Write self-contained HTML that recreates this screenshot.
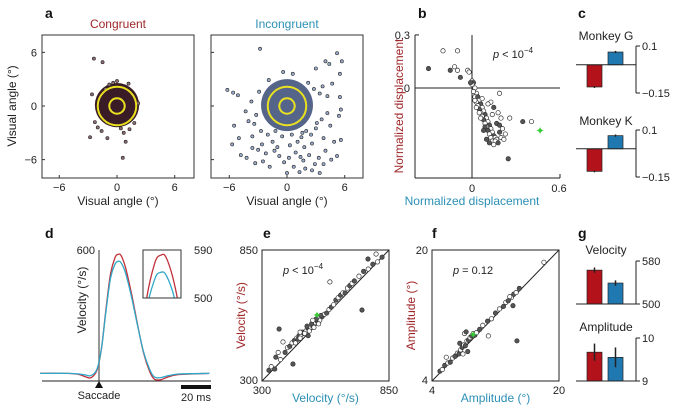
<!DOCTYPE html>
<html><head><meta charset="utf-8"><style>
html,body{margin:0;padding:0;background:#fff;overflow:hidden;width:677px;height:412px;}
svg{display:block;font-family:"Liberation Sans",Arial,sans-serif;overflow:hidden;}
</style></head><body>
<svg id="fig" width="677" height="412" viewBox="0 0 677 412"></svg>
<script>
// ---------- data ----------
const congOutX = [-2.4,-1.5,-2.6,-2.3,-2.0,-2.8,-1.0,0.7,0.9,0.6,1.8,2.2,1.2,0.0,-0.4,-1.6,1.3,-1.2,0.4,-0.8];
const congOutY = [5.3,4.9,1.3,-1.8,-2.4,-3.5,-3.6,-3.0,-4.0,-5.8,-1.9,0.3,2.5,2.8,2.6,-2.8,-2.6,1.9,-2.5,2.4];
const incOutX = [-2.8,5.2,4.4,3.0,5.7,4.0,-6.2,-5.6,-5.1,-3.7,-4.3,-4.0,-5.5,-5.0,-5.7,-4.8,-4.2,-3.6,-3.0,-3.3,-2.5,-2.2,-2.7,-2.0,-1.5,-1.0,-0.8,-0.3,0.0,0.7,1.3,1.9,2.6,3.4,1.7,2.3,0.9,0.3,1.1,1.8,2.6,3.3,4.0,4.6,5.2,3.8,4.5,5.4,4.2,3.6,5.6,2.5,1.5,0.5,-0.5,-1.2,3.4,4.2,5.5,5.6,4.7,3.7,5.5,3.8,2.0,-3.6,-2.6,-1.8,1.4,3.0,-1.3,4.9,2.9,0.2,-3.2,-2.9,3.1,2.8,-0.4,0.6,1.6,-1.9,2.2,-3.4];
const incOutY = [6.4,5.9,4.7,4.2,5.0,5.0,1.8,1.5,1.2,0.5,-0.6,-1.7,-2.2,-3.6,-4.3,-5.5,-5.8,-4.7,-4.9,-6.4,-6.2,-5.3,-2.8,-3.2,-4.0,-4.6,-5.6,-6.3,-7.5,-6.8,-7.4,-7.0,-7.2,-7.5,-6.1,-5.5,-5.2,-4.4,-4.0,-4.6,-4.2,-5.8,-5.0,-6.0,-5.6,-3.6,-2.2,-1.1,-0.8,-1.5,-3.8,-3.2,-3.5,-3.2,-3.4,-2.8,1.4,1.1,1.0,-0.4,2.5,2.2,3.6,-6.5,-2.8,-3.4,-4.3,-6.8,-5.7,-2.5,-5.0,-4.0,-6.5,-5.8,-1.0,1.6,-1.9,1.9,3.8,3.6,-3.0,2.9,2.6,-2.0];
const bX = [-0.3,-0.2,-0.1,-0.15,-0.12,-0.1,-0.08,-0.03,-0.02,0.35,0.41,0.26,0.25,0.19,0,0.01,0,0.02,0.01,0.03,0.02,0.04,0.05,0.03,0.06,0.04,0.07,0.05,0.08,0.06,0.09,0.07,0.1,0.08,0.11,0.09,0.12,0.1,0.13,0.11,0.14,0.12,0.15,0.13,0.16,0.1,0.14,0.17,0.12,0.16,0.15,0.19,0.2,0.18,0.15,0.13,0.06,0.09,0.2,0.23,0.17,0.05,0.03,0.08,0.11,0.14,0.18,0.22,0.01,-0.01,0.02,0.07,0.19,0.21];
const bY = [0.11,0.21,0.21,0.1,0.12,0.1,0.06,0.1,0.09,-0.19,-0.19,-0.17,-0.4,-0.03,0.04,0.03,0.02,0.0,-0.02,-0.03,-0.05,-0.05,-0.07,-0.08,-0.09,-0.1,-0.11,-0.12,-0.13,-0.14,-0.15,-0.16,-0.17,-0.18,-0.19,-0.2,-0.21,-0.22,-0.23,-0.24,-0.25,-0.26,-0.27,-0.28,-0.28,-0.29,-0.3,-0.29,-0.31,-0.3,-0.32,-0.25,-0.17,-0.14,-0.11,-0.08,-0.17,-0.22,-0.28,-0.26,-0.2,-0.14,-0.11,-0.24,-0.09,-0.15,-0.31,-0.29,-0.02,0.03,-0.07,-0.06,-0.21,-0.23];
const bStar = [0.47,-0.24];
const cCats = ['Congruent','Incongruent'];
const cMonkeyG = [-0.118,0.068];
const cMonkeyK = [-0.12,0.07];
const dTime = [-38,-20,-12,-8,-4,0,3,6,9,12,14,16,19,23,27,31,35,38,42,48,55,75];
const dRed  = [35,35,30,20,15,50,150,330,490,565,580,575,520,400,260,130,45,10,5,20,30,35];
const dBlue = [35,35,32,28,25,55,150,320,470,535,548,542,495,385,255,135,55,20,15,25,32,35];
const eX = [330,340,355,370,360,380,400,410,420,430,440,450,460,470,480,490,500,510,520,530,540,550,560,570,580,590,600,610,620,630,640,650,660,670,680,690,700,720,740,760,780,800,820,445,455,465,475,485,495,505,515,525,535,545,555,465,500,520,374,391,434,594,733,794,759];
const eY = [345,360,350,420,400,390,420,440,445,460,470,480,490,495,500,510,520,525,530,545,550,555,570,580,585,600,610,620,640,650,660,670,670,690,700,710,720,740,760,770,790,800,820,460,475,480,505,500,530,510,540,525,560,540,575,505,490,555,518,464,371,716,598,833,812];
const eStar = [538,577];
const fX = [5,5.3,5.6,6,6.3,6.6,7,7.2,7.4,7.6,7.8,8,8.2,8.4,8.6,8.8,9,9.2,9.4,9.6,10,10.4,11,11.5,12,12.5,13,13.3,13.6,14,14.3,14.6,15,18.1,14.7,11.1,7.5,8.1,6.9,7.9,8.5,13.8,14.2,5.8,8.3];
const fY = [5.2,5.4,5.9,6.2,6.3,6.8,7.1,7.4,7.3,7.8,8.1,8.4,8.3,8.9,9.0,9.3,9.5,9.8,9.6,9.9,10.3,10.8,11.3,11.6,12.3,12.8,13.1,13.6,13.8,14.2,14.6,14.8,15.3,18.5,8.9,9.5,8.6,9.8,7.0,7.3,7.6,14.3,13.2,6.9,10.0];
const fStar = [9.2,9.7];
const gVel = [563,539];
const gVelErr = [5,5];
const gAmp = [9.67,9.55];
const gAmpErr = [0.2,0.23];

// ---------- helpers ----------
const NS='http://www.w3.org/2000/svg';
const svg=document.getElementById('fig');
function el(tag,attrs,parent){const e=document.createElementNS(NS,tag);for(const k in attrs)e.setAttribute(k,attrs[k]);(parent||svg).appendChild(e);return e;}
function txt(x,y,s,opts,name){const t=el('text',Object.assign({x:x,y:y,'font-size':11,fill:'#222'},opts||{}));t.textContent=s;


return t;}
function line(x1,y1,x2,y2,c,w,name){const l=el('line',{x1,y1,x2,y2,stroke:c||'#222','stroke-width':w||1});


return l;}
const RED='#a0282a', BLUE='#2b8fb5', BAR_R='#b3121a', BAR_B='#1f78b0';

[['a',45,18],['b',418,18],['c',578,18],['d',45,238],['e',263,238],['f',432,238],['g',578,238]].forEach(p=>{
  txt(p[1],p[2],p[0],{'font-size':14,'font-weight':'bold',fill:'#111'},'panel-letter-'+p[0]);
});

// ---------- panel a ----------
function scatterA(x0,x1,y0,y1,cx,cy,coreR,coreColor,dotFill,ox,oy,title,tcol,nm){
  const sx=(x1-x0)/15.8, sy=(y1-y0)/16;
  const X=v=>cx+v*sx, Y=v=>cy-v*sy;
  const fr=el('rect',{x:x0,y:y0,width:x1-x0,height:y1-y0,fill:'none',stroke:'#333','stroke-width':1});
  
  
  [-6,0,6].forEach(v=>{line(X(v),y1,X(v),y1-3,'#333',1,'x-tick');line(x0,Y(v),x0+3,Y(v),'#333',1,'y-tick');
    txt(X(v),y1+13,v<0?'−6':String(v),{'text-anchor':'middle','font-size':11},'x-tick-label');});
  const core=el('circle',{cx:X(0),cy:Y(0.1),r:coreR*sx,fill:coreColor});
  
  
  for(let i=0;i<ox.length;i++){const c=el('circle',{cx:X(ox[i]),cy:Y(oy[i]),r:1.6,fill:dotFill,stroke:'#222','stroke-width':0.6});
    
    }
  [2.0,0.8].forEach(r=>{const c=el('circle',{cx:X(0),cy:Y(0),r:r*sx,fill:'none',stroke:'#e8e020','stroke-width':2});
    
    });
  txt((x0+x1)/2,28,title,{'text-anchor':'middle','font-size':12,fill:tcol},nm+'-title');
  txt((x0+x1)/2,205,'Visual angle (°)',{'text-anchor':'middle','font-size':12},'x-axis-title');
  return Y;
}
const YA=scatterA(42,194,35,178,117,106,2.3,'#3a1c26','#8a6a6e',congOutX,congOutY,'Congruent',RED,'congruent');
[-6,0,6].forEach(v=>txt(37,YA(v)+4,v<0?'−6':String(v),{'text-anchor':'end','font-size':11},'y-tick-label'));
txt(0,0,'Visual angle (°)',{'text-anchor':'middle','font-size':12,transform:'translate(16,106) rotate(-90)'},'y-axis-title');
scatterA(211,363,35,178,287,106,2.7,'#55658a','#9aaccc',incOutX,incOutY,'Incongruent',BLUE,'incongruent');

// ---------- panel b ----------
(function(){
  const X=v=>472+v*145, Y=v=>88-v*177;
  line(415,35,415,178,'#222',1,'y-axis');line(415,178,560,178,'#222',1,'x-axis');
  line(X(0),35,X(0),178,'#222',1,'zero-line-vertical');line(415,Y(0),560,Y(0),'#222',1,'zero-line-horizontal');
  line(415,Y(0.3),419,Y(0.3),'#222',1,'y-tick');line(560,178,560,174,'#222',1,'x-tick');
  txt(410,Y(0.3)+4,'0.3',{'text-anchor':'end'},'y-tick-label');txt(410,Y(0)+4,'0',{'text-anchor':'end'},'y-tick-label');
  txt(X(0),192,'0',{'text-anchor':'middle'},'x-tick-label');txt(X(0.6),192,'0.6',{'text-anchor':'middle'},'x-tick-label');
  for(let i=0;i<bX.length;i++){const c=el('circle',{cx:X(bX[i]),cy:Y(bY[i]),r:2.2,fill:(i%3===0)?'#555':'#fff',stroke:'#333','stroke-width':0.7});
    
    }
  txt(X(bStar[0]),Y(bStar[1])+4,'✦',{'text-anchor':'middle','font-size':11,fill:'#33cc33'},'mean-marker');
  const p=txt(493,58,'',{'font-size':11,'font-style':'italic'},'p-value');p.innerHTML='p<tspan font-style="normal"> &lt; 10</tspan><tspan font-style="normal" font-size="8" dy="-5">−4</tspan>';
  txt(0,0,'Normalized displacement',{'text-anchor':'middle','font-size':12,fill:RED,transform:'translate(403,106) rotate(-90)'},'y-axis-title');
  txt(472,205,'Normalized displacement',{'text-anchor':'middle','font-size':12,fill:BLUE},'x-axis-title');
})();

// ---------- bar panels ----------
function barPanel(vals,errs,lo,hi,yTop,yBot,baseV,axLbls,title,titleY,nm){
  const Y=v=>yTop+(hi-v)/(hi-lo)*(yBot-yTop);
  line(636,yTop,636,yBot,'#222',1,'y-axis');line(636,yTop,640,yTop,'#222',1,'y-tick');line(636,yBot,640,yBot,'#222',1,'y-tick');
  txt(642,yTop+4,axLbls[0],{},'y-tick-label');txt(642,yBot+4,axLbls[1],{},'y-tick-label');
  const xs=[587,608], cols=[BAR_R,BAR_B];
  for(let i=0;i<vals.length;i++){
    const y1=Y(vals[i]),y0=Y(baseV);
    const r=el('rect',{x:xs[i],y:Math.min(y0,y1),width:15,height:Math.abs(y1-y0),fill:cols[i],stroke:'#222','stroke-width':0.7});
    
    
    const e=errs[i];line(xs[i]+7.5,Y(vals[i]-e),xs[i]+7.5,Y(vals[i]+e),'#222',1.5,'error-bar');
  }
  line(576,Y(baseV),636,Y(baseV),'#222',1,'baseline');
  txt(606,titleY,title,{'text-anchor':'middle','font-size':12},nm+'-title');
}
barPanel(cMonkeyG,[0.005,0.006],-0.15,0.1,46,93,0,['0.1','−0.15'],'Monkey G',40,'monkey-g');
barPanel(cMonkeyK,[0.005,0.006],-0.15,0.1,130,177,0,['0.1','−0.15'],'Monkey K',125,'monkey-k');

// ---------- panel d ----------
(function(){
  const X=t=>97+t*1.5, Y=v=>381-v*(131/600);
  line(99,250,99,381,'#777',1.5,'saccade-onset-line');
  line(42,381,211,381,'#222',1,'x-axis');
  txt(95,254,'600',{'text-anchor':'end'},'y-tick-label');
  const tri=el('path',{d:'M99 381 L95 388 L103 388 Z',fill:'#111'});
  
  
  txt(99,399,'Saccade',{'text-anchor':'middle','font-size':11},'saccade-label');
  line(181,387,211,387,'#111',4,'scale-bar');
  txt(196,401,'20 ms',{'text-anchor':'middle'},'scale-bar-label');
  txt(0,0,'Velocity (°/s)',{'text-anchor':'middle','font-size':12,transform:'translate(86,300) rotate(-90)'},'y-axis-title');
  function smooth(arr,Xf,Yf){const P=arr.map((v,i)=>[Xf(dTime[i]),Yf(v)]);let d='M'+P[0][0]+' '+P[0][1];
    for(let i=0;i<P.length-1;i++){const p0=P[Math.max(0,i-1)],p1=P[i],p2=P[i+1],p3=P[Math.min(P.length-1,i+2)];
      d+=` C${p1[0]+(p2[0]-p0[0])/6} ${p1[1]+(p2[1]-p0[1])/6} ${p2[0]-(p3[0]-p1[0])/6} ${p2[1]-(p3[1]-p1[1])/6} ${p2[0]} ${p2[1]}`;}return d;}
  const r=el('path',{d:smooth(dRed,X,Y),fill:'none',stroke:'#c0303a','stroke-width':1.3});
  
  
  const b=el('path',{d:smooth(dBlue,X,Y),fill:'none',stroke:'#30a8c8','stroke-width':1.3});
  
  
  const cp=el('clipPath',{id:'insetclip'});el('rect',{x:143,y:250,width:38,height:48},cp);
  const Xi=t=>143+(t-8)*38/13, Yi=v=>298-(v-500)*48/90;
  const g=el('g',{'clip-path':'url(#insetclip)'});
  
  
  const ri=el('path',{d:smooth(dRed,Xi,Yi),fill:'none',stroke:'#c0303a','stroke-width':1.3},g);
  
  
  const bi=el('path',{d:smooth(dBlue,Xi,Yi),fill:'none',stroke:'#30a8c8','stroke-width':1.3},g);
  
  
  const fr=el('rect',{x:143,y:250,width:38,height:48,fill:'none',stroke:'#333','stroke-width':1});
  
  
  txt(194,254,'590',{},'inset-tick-label');txt(194,302,'500',{},'inset-tick-label');
})();

// ---------- panels e, f ----------
function diagPanel(x0,x1,y0,y1,lo,hi,xs,ys,star,loL,hiL,ptxt,ylab,xlab,nm){
  const X=v=>x0+(v-lo)/(hi-lo)*(x1-x0), Y=v=>y1-(v-lo)/(hi-lo)*(y1-y0);
  const fr=el('rect',{x:x0,y:y0,width:x1-x0,height:y1-y0,fill:'none',stroke:'#222','stroke-width':1});
  
  
  line(x0,y1,x1,y0,'#222',1,'unity-line');
  txt(x0-4,y0+4,hiL,{'text-anchor':'end'},'y-tick-label');txt(x0-4,y1+3,loL,{'text-anchor':'end'},'y-tick-label');
  txt(x0,y1+13,loL,{'text-anchor':'middle'},'x-tick-label');txt(x1,y1+13,hiL,{'text-anchor':'middle'},'x-tick-label');
  for(let i=0;i<xs.length;i++){const c=el('circle',{cx:X(xs[i]),cy:Y(ys[i]),r:2.2,fill:(i%2===0)?'#555':'#fff',stroke:'#333','stroke-width':0.7});
    
    }
  txt(X(star[0]),Y(star[1])+4,'✦',{'text-anchor':'middle','font-size':11,fill:'#33cc33'},'mean-marker');
  const p=txt(x0+21,y0+24,'',{'font-size':11,'font-style':'italic'},'p-value');p.innerHTML=ptxt;
  txt(0,0,ylab,{'text-anchor':'middle','font-size':12,fill:RED,transform:`translate(${x0-17},${(y0+y1)/2}) rotate(-90)`},'y-axis-title');
  txt((x0+x1)/2,402,xlab,{'text-anchor':'middle','font-size':12,fill:BLUE},'x-axis-title');
}
diagPanel(262,389,250,381,300,850,eX,eY,eStar,'300','850','p<tspan font-style="normal"> &lt; 10</tspan><tspan font-style="normal" font-size="8" dy="-5">−4</tspan>','Velocity (°/s)','Velocity (°/s)','velocity-scatter');
diagPanel(432,559,250,381,4,20,fX,fY,fStar,'4','20','p<tspan font-style="normal"> = 0.12</tspan>','Amplitude (°)','Amplitude (°)','amplitude-scatter');

// ---------- panel g ----------
barPanel(gVel,gVelErr,500,580,261,304,500,['580','500'],'Velocity',254,'velocity-bars');
barPanel(gAmp,gAmpErr,9,10,338,381,9,['10','9'],'Amplitude',331,'amplitude-bars');
</script>
</body></html>
